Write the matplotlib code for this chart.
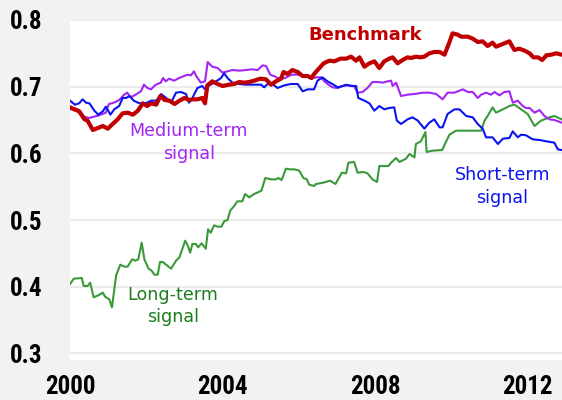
import matplotlib
matplotlib.use('Agg')
import matplotlib.pyplot as plt
from matplotlib import font_manager

# Benchmark (thick dark red)
bench_yr = [2000.00, 2000.11, 2000.24, 2000.38, 2000.46, 2000.60, 2000.73, 2000.86, 2000.99, 2001.12,
	2001.25, 2001.38, 2001.51, 2001.65, 2001.78, 2001.91, 2002.02, 2002.13, 2002.26, 2002.37,
	2002.48, 2002.61, 2002.74, 2002.87, 2003.00, 2003.12, 2003.21, 2003.34, 2003.47, 2003.54,
	2003.60, 2003.73, 2003.87, 2004.00, 2004.17, 2004.30, 2004.44, 2004.57, 2004.70, 2004.83,
	2004.99, 2005.14, 2005.27, 2005.40, 2005.53, 2005.60, 2005.70, 2005.83, 2005.97, 2006.10,
	2006.23, 2006.33, 2006.40, 2006.54, 2006.65, 2006.80, 2006.93, 2007.09, 2007.24, 2007.37,
	2007.50, 2007.59, 2007.72, 2007.85, 2007.98, 2008.11, 2008.24, 2008.37, 2008.46, 2008.59,
	2008.72, 2008.85, 2008.94, 2009.07, 2009.19, 2009.29, 2009.42, 2009.55, 2009.69, 2009.82,
	2009.95, 2010.03, 2010.17, 2010.25, 2010.43, 2010.56, 2010.69, 2010.82, 2010.95, 2011.08,
	2011.17, 2011.30, 2011.39, 2011.52, 2011.65, 2011.78, 2011.92, 2012.05, 2012.15, 2012.27,
	2012.38, 2012.49, 2012.62, 2012.75, 2012.89]
bench = [0.669, 0.666, 0.663, 0.651, 0.649, 0.635, 0.638, 0.641, 0.637, 0.644,
	0.651, 0.660, 0.661, 0.658, 0.664, 0.675, 0.671, 0.675, 0.673, 0.686,
	0.680, 0.679, 0.674, 0.679, 0.683, 0.680, 0.681, 0.681, 0.683, 0.675,
	0.702, 0.708, 0.704, 0.701, 0.703, 0.704, 0.707, 0.706, 0.707, 0.709,
	0.712, 0.711, 0.703, 0.708, 0.712, 0.722, 0.719, 0.725, 0.722, 0.716,
	0.716, 0.713, 0.719, 0.728, 0.735, 0.739, 0.738, 0.742, 0.742, 0.745,
	0.739, 0.744, 0.730, 0.735, 0.738, 0.728, 0.738, 0.742, 0.744, 0.735,
	0.740, 0.744, 0.743, 0.745, 0.744, 0.745, 0.750, 0.752, 0.752, 0.748,
	0.767, 0.780, 0.778, 0.775, 0.775, 0.772, 0.767, 0.768, 0.761, 0.766,
	0.760, 0.763, 0.765, 0.768, 0.755, 0.757, 0.754, 0.750, 0.744, 0.744,
	0.740, 0.747, 0.748, 0.750, 0.748]

# Short-term signal (blue)
short_yr = [2000.00, 2000.13, 2000.24, 2000.33, 2000.42, 2000.51, 2000.64, 2000.74, 2000.86, 2000.94,
	2001.06, 2001.16, 2001.29, 2001.38, 2001.47, 2001.56, 2001.67, 2001.78, 2001.91, 2002.02,
	2002.13, 2002.26, 2002.39, 2002.52, 2002.65, 2002.78, 2002.91, 2003.04, 2003.12, 2003.21,
	2003.34, 2003.47, 2003.54, 2003.62, 2003.78, 2003.96, 2004.04, 2004.13, 2004.26, 2004.44,
	2004.61, 2004.83, 2005.01, 2005.09, 2005.18, 2005.31, 2005.44, 2005.62, 2005.79, 2005.97,
	2006.10, 2006.23, 2006.40, 2006.49, 2006.62, 2006.75, 2006.88, 2007.02, 2007.15, 2007.24,
	2007.37, 2007.50, 2007.56, 2007.72, 2007.85, 2007.98, 2008.11, 2008.24, 2008.37, 2008.50,
	2008.57, 2008.68, 2008.85, 2008.98, 2009.12, 2009.29, 2009.42, 2009.55, 2009.69, 2009.77,
	2009.90, 2010.08, 2010.21, 2010.39, 2010.56, 2010.69, 2010.82, 2010.91, 2011.08, 2011.22,
	2011.35, 2011.52, 2011.61, 2011.74, 2011.83, 2011.96, 2012.13, 2012.31, 2012.49, 2012.70,
	2012.79, 2012.89]
short = [0.679, 0.673, 0.675, 0.681, 0.676, 0.675, 0.664, 0.658, 0.663, 0.670,
	0.658, 0.666, 0.671, 0.683, 0.683, 0.686, 0.679, 0.676, 0.674, 0.676,
	0.679, 0.679, 0.689, 0.683, 0.676, 0.691, 0.692, 0.689, 0.676, 0.683,
	0.698, 0.701, 0.696, 0.701, 0.706, 0.713, 0.720, 0.713, 0.706, 0.704,
	0.703, 0.703, 0.703, 0.699, 0.704, 0.704, 0.698, 0.702, 0.704, 0.704,
	0.693, 0.696, 0.696, 0.709, 0.714, 0.708, 0.704, 0.699, 0.701, 0.703,
	0.701, 0.701, 0.683, 0.679, 0.675, 0.664, 0.671, 0.666, 0.668, 0.669,
	0.649, 0.644, 0.651, 0.654, 0.649, 0.637, 0.646, 0.651, 0.639, 0.639,
	0.659, 0.666, 0.666, 0.656, 0.654, 0.644, 0.637, 0.624, 0.624, 0.614,
	0.622, 0.623, 0.633, 0.624, 0.628, 0.627, 0.621, 0.620, 0.618, 0.616,
	0.606, 0.605]

# Medium-term signal (purple)
medium_yr = [2000.00, 2000.10, 2000.24, 2000.37, 2000.50, 2000.63, 2000.76, 2000.94, 2001.02, 2001.15,
	2001.29, 2001.42, 2001.50, 2001.59, 2001.72, 2001.86, 2001.94, 2002.03, 2002.12, 2002.25,
	2002.38, 2002.44, 2002.51, 2002.60, 2002.73, 2002.86, 2002.99, 2003.08, 2003.17, 2003.25,
	2003.31, 2003.43, 2003.54, 2003.61, 2003.73, 2003.87, 2004.00, 2004.13, 2004.26, 2004.44,
	2004.61, 2004.78, 2004.92, 2005.05, 2005.14, 2005.25, 2005.38, 2005.51, 2005.64, 2005.81,
	2005.98, 2006.10, 2006.23, 2006.32, 2006.45, 2006.58, 2006.67, 2006.75, 2006.88, 2007.02,
	2007.15, 2007.28, 2007.45, 2007.54, 2007.67, 2007.80, 2007.93, 2008.07, 2008.20, 2008.33,
	2008.42, 2008.46, 2008.55, 2008.68, 2008.85, 2009.03, 2009.25, 2009.42, 2009.60, 2009.77,
	2009.90, 2010.08, 2010.30, 2010.43, 2010.56, 2010.69, 2010.78, 2010.91, 2011.04, 2011.13,
	2011.26, 2011.39, 2011.52, 2011.61, 2011.74, 2011.87, 2011.96, 2012.05, 2012.18, 2012.31,
	2012.44, 2012.57, 2012.70, 2012.89]
medium = [0.666, 0.668, 0.665, 0.655, 0.653, 0.655, 0.657, 0.661, 0.674, 0.676,
	0.680, 0.688, 0.691, 0.684, 0.688, 0.693, 0.703, 0.698, 0.696, 0.703,
	0.706, 0.713, 0.708, 0.712, 0.709, 0.713, 0.716, 0.718, 0.717, 0.723,
	0.716, 0.706, 0.708, 0.737, 0.730, 0.728, 0.721, 0.723, 0.725, 0.724,
	0.725, 0.726, 0.725, 0.732, 0.731, 0.718, 0.715, 0.711, 0.713, 0.718,
	0.718, 0.716, 0.717, 0.712, 0.714, 0.714, 0.708, 0.704, 0.699, 0.698,
	0.701, 0.702, 0.701, 0.691, 0.692, 0.698, 0.707, 0.707, 0.706, 0.708,
	0.709, 0.701, 0.706, 0.686, 0.688, 0.689, 0.691, 0.691, 0.689, 0.681,
	0.691, 0.691, 0.696, 0.692, 0.692, 0.683, 0.688, 0.691, 0.688, 0.692,
	0.687, 0.692, 0.693, 0.676, 0.679, 0.671, 0.668, 0.668, 0.661, 0.665,
	0.656, 0.651, 0.650, 0.646]

# Long-term signal (green)
long_yr = [2000.00, 2000.10, 2000.31, 2000.36, 2000.46, 2000.53, 2000.62, 2000.74, 2000.86, 2000.92,
	2001.03, 2001.10, 2001.21, 2001.32, 2001.43, 2001.51, 2001.63, 2001.71, 2001.79, 2001.88,
	2001.95, 2002.06, 2002.14, 2002.21, 2002.30, 2002.36, 2002.43, 2002.52, 2002.65, 2002.78,
	2002.87, 2003.02, 2003.10, 2003.15, 2003.21, 2003.30, 2003.36, 2003.45, 2003.56, 2003.62,
	2003.69, 2003.78, 2003.87, 2003.97, 2004.04, 2004.13, 2004.20, 2004.29, 2004.39, 2004.52,
	2004.59, 2004.70, 2004.83, 2005.02, 2005.12, 2005.27, 2005.40, 2005.46, 2005.55, 2005.66,
	2005.75, 2005.88, 2006.01, 2006.12, 2006.21, 2006.27, 2006.40, 2006.45, 2006.64, 2006.82,
	2006.96, 2007.13, 2007.24, 2007.30, 2007.45, 2007.54, 2007.69, 2007.80, 2007.93, 2008.05,
	2008.11, 2008.35, 2008.42, 2008.55, 2008.64, 2008.81, 2008.90, 2009.03, 2009.07, 2009.20,
	2009.32, 2009.35, 2009.51, 2009.76, 2009.84, 2009.95, 2010.12, 2010.47, 2010.78, 2010.87,
	2010.95, 2011.08, 2011.17, 2011.35, 2011.52, 2011.65, 2011.78, 2012.00, 2012.18, 2012.35,
	2012.57, 2012.70, 2012.89]
long_ = [0.404, 0.412, 0.413, 0.401, 0.401, 0.406, 0.384, 0.387, 0.391, 0.385,
	0.381, 0.369, 0.417, 0.433, 0.430, 0.430, 0.441, 0.439, 0.441, 0.466,
	0.441, 0.427, 0.424, 0.418, 0.418, 0.437, 0.437, 0.433, 0.427, 0.439,
	0.444, 0.469, 0.460, 0.451, 0.464, 0.464, 0.459, 0.465, 0.457, 0.486,
	0.481, 0.492, 0.490, 0.490, 0.498, 0.500, 0.514, 0.520, 0.528, 0.528,
	0.539, 0.534, 0.539, 0.544, 0.563, 0.561, 0.561, 0.563, 0.560, 0.577,
	0.576, 0.576, 0.574, 0.563, 0.561, 0.553, 0.551, 0.554, 0.556, 0.559,
	0.554, 0.571, 0.570, 0.586, 0.587, 0.571, 0.572, 0.570, 0.561, 0.557,
	0.581, 0.581, 0.586, 0.593, 0.587, 0.592, 0.599, 0.594, 0.614, 0.618,
	0.632, 0.602, 0.604, 0.605, 0.615, 0.628, 0.634, 0.634, 0.634, 0.649,
	0.656, 0.669, 0.661, 0.666, 0.671, 0.673, 0.668, 0.659, 0.641, 0.649,
	0.654, 0.656, 0.651]

yticks = [0.3, 0.4, 0.5, 0.6, 0.7, 0.8]
xticks = [2000, 2004, 2008, 2012]

# narrow bold font for the tick labels, if one is there
names = set(f.name for f in font_manager.fontManager.ttflist)
narrow = None
for cand in ['Liberation Sans Narrow', 'Arial Narrow', 'Roboto Condensed', 'Open Sans Condensed']:
	if cand in names:
		narrow = cand
		break
if narrow:
	tick_fp = font_manager.FontProperties(family=narrow, weight='bold', size=18)
else:
	tick_fp = font_manager.FontProperties(family='DejaVu Sans', weight='bold', stretch='condensed', size=16)

fig = plt.figure(figsize=(5.62, 4.0), dpi=100, facecolor='#f2f2f2')
ax = fig.add_axes([70/562, 0.10, 492/562, 0.85])
ax.set_facecolor('white')

ax.plot(long_yr, long_, color='#3a9a3a', lw=1.5, zorder=3)
ax.plot(medium_yr, medium, color='#a225f5', lw=1.5, zorder=4)
ax.plot(short_yr, short, color='#0a14f0', lw=1.5, zorder=5)
ax.plot(bench_yr, bench, color='#c00000', lw=3.0, zorder=6, solid_joinstyle='round')

ax.set_xlim(2000, 2012.9)
ax.set_ylim(0.29, 0.8)
ax.set_yticks(yticks)
ax.set_yticklabels(['%.1f' % v for v in yticks])
ax.set_xticks(xticks)
ax.set_xticklabels([str(v) for v in xticks])
ax.grid(axis='y', color='#ebebeb', lw=1.5, zorder=0)
ax.set_axisbelow(True)
for s in ax.spines.values():
	s.set_visible(False)

ax.tick_params(axis='both', length=0)
ax.tick_params(axis='y', pad=20)
ax.tick_params(axis='x', pad=11)
for lab in ax.get_xticklabels() + ax.get_yticklabels():
	lab.set_fontproperties(tick_fp)

# series labels
ax.text(2003.12, 0.616, 'Medium-term\nsignal', color='#a225f5', fontsize=12.6,
	ha='center', va='center', linespacing=1.35)
ax.text(2007.74, 0.778, 'Benchmark', color='#c00000', fontsize=13, fontweight='bold',
	ha='center', va='center')
ax.text(2011.34, 0.550, 'Short-term\nsignal', color='#0a14f0', fontsize=12.6,
	ha='center', va='center', linespacing=1.35)
ax.text(2002.7, 0.371, 'Long-term\nsignal', color='#1e7d1e', fontsize=12.6,
	ha='center', va='center', linespacing=1.35)

fig.savefig('out.png', dpi=100, facecolor=fig.get_facecolor())
